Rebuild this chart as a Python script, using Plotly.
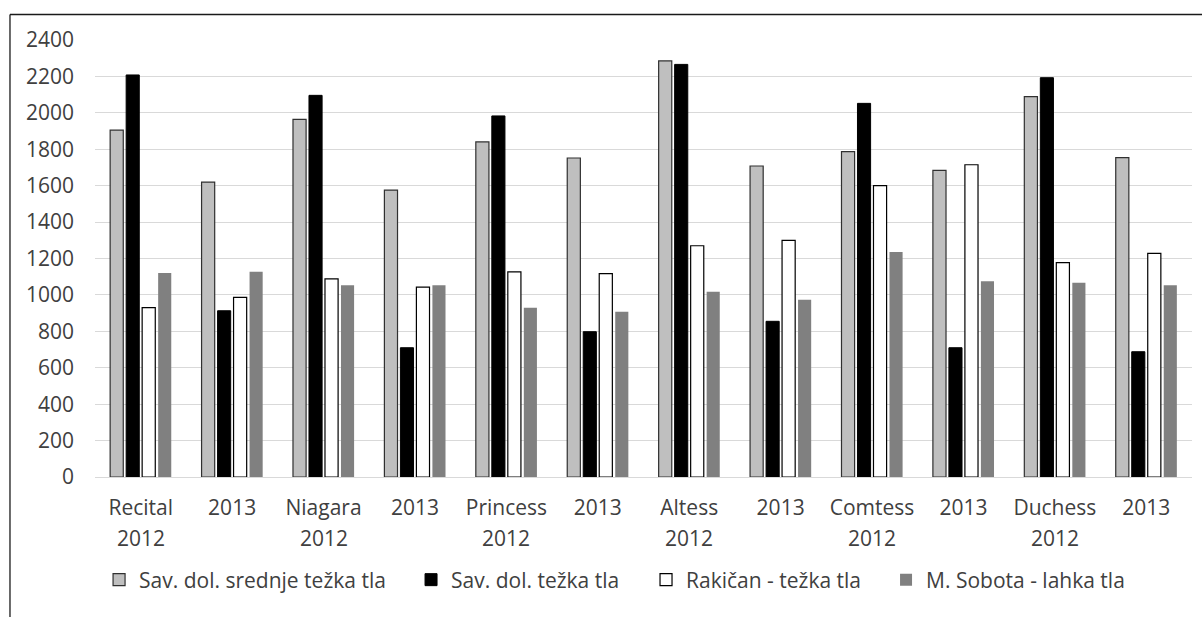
import plotly.graph_objects as go

# Category labels (first line on the axis, second line underneath)
categories = ["Recital", "2013", "Niagara", "2013", "Princess", "2013",
              "Altess", "2013", "Comtess", "2013", "Duchess", "2013"]
second_line = ["2012", "", "2012", "", "2012", "", "2012", "", "2012", "", "2012", ""]

# Series values
sav_srednje = [1905, 1620, 1964, 1576, 1840, 1752, 2285, 1708, 1787, 1684, 2089, 1754]
sav_tezka = [2208, 913, 2096, 710, 1983, 798, 2266, 855, 2052, 710, 2193, 688]
rakican = [930, 986, 1088, 1043, 1126, 1117, 1270, 1300, 1600, 1715, 1177, 1228]
sobota = [1120, 1127, 1053, 1053, 930, 908, 1017, 974, 1236, 1075, 1067, 1053]

series_names = ["Sav. dol. srednje težka tla", "Sav. dol. težka tla",
                "Rakičan - težka tla", "M. Sobota - lahka tla"]

y_ticks = list(range(0, 2401, 200))

FONT = "Open Sans"
TXT = "#404040"
FS = 21

x_idx = list(range(len(categories)))

fig = go.Figure()
styles = [
    dict(color="#bfbfbf", line=dict(color="#303030", width=1.2)),
    dict(color="#000000", line=dict(color="#000000", width=1)),
    dict(color="#ffffff", line=dict(color="#000000", width=1.2)),
    dict(color="#808080", line=dict(color="#808080", width=0)),
]
legend_ids = ["legend", "legend2", "legend3", "legend4"]
for name, vals, st, lg in zip(series_names, [sav_srednje, sav_tezka, rakican, sobota],
                              styles, legend_ids):
    fig.add_trace(go.Bar(x=x_idx, y=vals, name=name, marker=st, legend=lg,
                         hoverinfo="y+name"))

# second line of the category labels
for i, t in enumerate(second_line):
    if t:
        fig.add_annotation(x=i, y=-0.1396, xref="x", yref="paper", text=t,
                           showarrow=False, yanchor="middle", xanchor="center",
                           font=dict(family=FONT, size=FS, color=TXT))

# outer frame (top and left edges)
fig.add_shape(type="line", xref="paper", yref="paper", x0=-0.0775, x1=1.02,
              y0=1.0584, y1=1.0584, line=dict(color="#1a1a1a", width=1.3))
fig.add_shape(type="line", xref="paper", yref="paper", x0=-0.0775, x1=-0.0775,
              y0=1.0584, y1=-0.35, line=dict(color="#1a1a1a", width=1.3))

leg_common = dict(orientation="h", xanchor="left", y=-0.2357, yanchor="middle",
                  font=dict(family=FONT, size=FS, color=TXT), itemclick=False,
                  bgcolor="rgba(0,0,0,0)")
leg_x = [0.0037, 0.2881, 0.5023, 0.7211]

fig.update_layout(
    width=1202, height=617,
    margin=dict(l=95, r=10, t=40, b=140),
    paper_bgcolor="white", plot_bgcolor="white",
    barmode="group", bargap=0.3, bargroupgap=0.18,
    font=dict(family=FONT, size=FS, color=TXT),
    showlegend=True,
    legend=dict(x=leg_x[0], **leg_common),
    legend2=dict(x=leg_x[1], **leg_common),
    legend3=dict(x=leg_x[2], **leg_common),
    legend4=dict(x=leg_x[3], **leg_common),
    xaxis=dict(tickmode="array", tickvals=x_idx, ticktext=categories,
               range=[-0.5, len(categories) - 0.5], showgrid=False,
               showline=True, linecolor="#d9d9d9", linewidth=1.3,
               ticks="", ticklabelstandoff=12, zeroline=False),
    yaxis=dict(range=[0, 2400], tickvals=y_ticks, showgrid=True, gridcolor="#d9d9d9",
               gridwidth=1.3, zeroline=False, showline=False, ticks="",
               ticklabelstandoff=20),
)

fig.write_html("out.html")
